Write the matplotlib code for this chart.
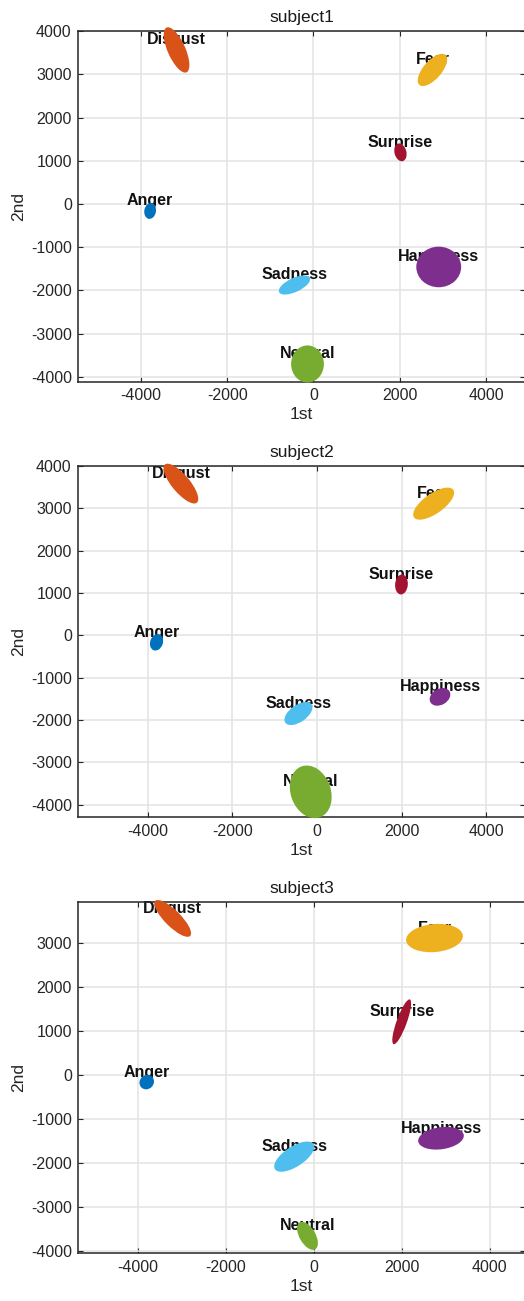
import numpy as np
import matplotlib
matplotlib.use('Agg')
import matplotlib.pyplot as plt
from matplotlib.patches import Ellipse

plt.rcParams['font.family'] = ['Liberation Sans', 'DejaVu Sans']
plt.rcParams['axes.unicode_minus'] = False

emotions = ['Anger', 'Disgust', 'Fear', 'Happiness', 'Neutral', 'Sadness', 'Surprise']
colors = ['#0072BD', '#D95319', '#EDB120', '#7E2F8E', '#77AC30', '#4DBEEE', '#A2142F']
subjects = ['subject1', 'subject2', 'subject3']

# ellipse centres (1st, 2nd) per subject, in emotion order
cx = [[-3787, -3174, 2757, 2903, -139, -440, 2015],
      [-3791, -3216, 2759, 2909, -147, -437, 1998],
      [-3795, -3205, 2745, 2893, -141, -443, 2000]]
cy = [[-162, 3567, 3104, -1459, -3706, -1876, 1195],
      [-166, 3580, 3107, -1454, -3696, -1847, 1199],
      [-164, 3553, 3107, -1439, -3655, -1857, 1205]]
# full axis lengths and orientation (deg)
major = [[370, 1135, 920, 1040, 760, 788, 420],
         [400, 1175, 1135, 520, 1277, 757, 473],
         [345, 1125, 1295, 1045, 705, 1045, 1080]]
minor = [[270, 410, 420, 940, 860, 324, 275],
         [300, 420, 473, 378, 946, 402, 300],
         [315, 365, 636, 500, 364, 455, 230]]
angle = [[80, -66, 49, 0, 0, 25, -75],
         [70, -50, 35, 30, -70, 35, 85],
         [45, -45, 5, 8, -60, 33, 70]]

xlims = [(-5459, 4903), (-5648, 4918), (-5357, 4802)]
ylims = [(-4116, 4010), (-4297, 4000), (-4052, 3930)]
# axes boxes in pixels: top, bottom
boxes = [(30.8, 381.7), (465.8, 817.3), (901.8, 1253.3)]

W, H = 524, 1301
fig = plt.figure(figsize=(W / 100, H / 100), dpi=100)

for k in range(3):
    top, bot = boxes[k]
    ax = fig.add_axes([78 / W, 1 - bot / H, (525 - 78) / W, (bot - top) / H])
    for i, name in enumerate(emotions):
        e = Ellipse((cx[k][i], cy[k][i]), major[k][i], minor[k][i], angle=angle[k][i],
                    facecolor=colors[i], edgecolor='none', zorder=3, clip_on=False)
        ax.add_patch(e)
        ax.annotate(name, (cx[k][i], cy[k][i]), xytext=(0, 7.2), textcoords='offset points',
                    ha='center', va='center', fontsize=11.5, fontweight='bold',
                    color='#111111', zorder=2)
    ax.set_xlim(*xlims[k])
    ax.set_ylim(*ylims[k])
    yt = np.arange(-4000, 4001, 1000)
    ax.set_xticks([-4000, -2000, 0, 2000, 4000])
    ax.set_yticks(yt[(yt >= ylims[k][0]) & (yt <= ylims[k][1])])
    ax.grid(True, color='#e3e3e3', linewidth=1.1, zorder=0)
    ax.set_axisbelow(True)
    ax.tick_params(direction='in', length=3.5, width=0.8, colors='#262626',
                   labelsize=11.5, top=True, right=True, pad=4.5)
    for s in ax.spines.values():
        s.set_color('#262626')
        s.set_linewidth(1.1)
    ax.set_title(subjects[k], fontsize=12.5, color='#1a1a1a', pad=6)
    ax.set_xlabel('1st', fontsize=12.5, color='#262626', labelpad=3)
    ax.set_ylabel('2nd', fontsize=12.5, color='#262626', labelpad=3)

fig.savefig('out.png', dpi=100)
